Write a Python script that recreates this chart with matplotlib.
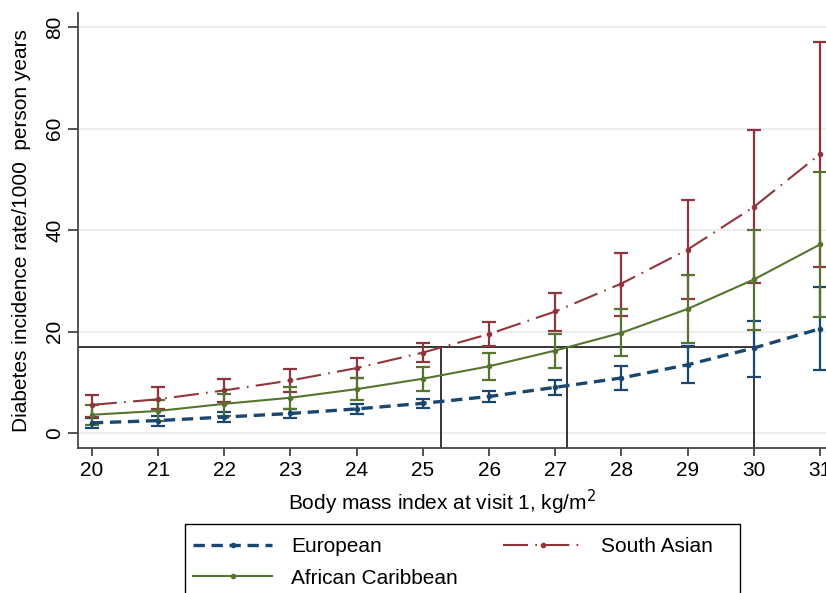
import matplotlib.pyplot as plt
from matplotlib.patches import Rectangle
import numpy as np

plt.rcParams['font.family'] = ['Liberation Sans', 'DejaVu Sans']
plt.rcParams['font.size'] = 15

bmi = [20, 21, 22, 23, 24, 25, 26, 27, 28, 29, 30, 31]

european = [2.05, 2.5, 3.2, 3.9, 4.8, 5.9, 7.25, 9.05, 10.9, 13.5, 16.8, 20.6]
european_lo = [1.0, 1.5, 2.2, 3.0, 3.85, 5.0, 6.25, 7.45, 8.6, 9.9, 11.0, 12.4]
european_hi = [3.0, 3.4, 4.1, 4.7, 5.7, 6.75, 8.3, 10.5, 13.2, 17.2, 22.2, 28.8]

afr_carib = [3.65, 4.4, 5.8, 7.0, 8.7, 10.75, 13.2, 16.3, 19.8, 24.5, 30.3, 37.2]
afr_carib_lo = [1.7, 2.5, 3.5, 4.8, 6.5, 8.4, 10.55, 12.85, 15.3, 17.8, 20.4, 23.0]
afr_carib_hi = [5.5, 6.6, 7.8, 9.2, 10.9, 13.05, 15.8, 19.6, 24.5, 31.1, 40.0, 51.4]

south_asian = [5.6, 6.7, 8.45, 10.4, 12.85, 15.9, 19.55, 24.0, 29.5, 36.2, 44.6, 55.0]
south_asian_lo = [3.15, 4.8, 6.1, 8.2, 10.9, 14.0, 17.25, 20.2, 23.2, 26.4, 29.6, 32.7]
south_asian_hi = [7.6, 9.1, 10.75, 12.65, 14.9, 17.8, 21.85, 27.6, 35.6, 46.0, 59.7, 77.1]

# reference rate and the BMI where each group reaches it
ref_rate = 16.9
ref_bmi = [25.27, 27.18, 30.0]

navy = '#1a476f'
maroon = '#90353b'
green = '#55752f'

fig = plt.figure(figsize=(8.26, 5.93), dpi=100)
ax = fig.add_axes([78 / 826, 1 - 448 / 593, 1 - 78 / 826, (448 - 13) / 593])

for v in [0, 20, 40, 60, 80]:
    ax.axhline(v, color='#eaeaea', lw=1.2, zorder=0)


def draw(y, lo, hi, color, **kw):
    y = np.array(y)
    err = [y - np.array(lo), np.array(hi) - y]
    ax.errorbar(bmi, y, yerr=err, fmt='none', ecolor=color, elinewidth=1.6,
                capsize=5, capthick=1.6, zorder=3)
    line, = ax.plot(bmi, y, color=color, marker='o', markersize=3, zorder=4, **kw)
    return line


l_eu = draw(european, european_lo, european_hi, navy, lw=2.4,
            dashes=(3.4, 2.0), label='European')
l_sa = draw(south_asian, south_asian_lo, south_asian_hi, maroon, lw=1.5,
            dashes=(12, 3.5, 0.8, 3.5), label='South Asian')
l_ac = draw(afr_carib, afr_carib_lo, afr_carib_hi, green, lw=1.5,
            label='African Caribbean')

ax.plot([19.79, ref_bmi[-1]], [ref_rate, ref_rate], color='black', lw=1.1, zorder=2)
for b in ref_bmi:
    ax.plot([b, b], [-3, ref_rate], color='black', lw=1.1, zorder=2)

ax.set_xlim(19.79, 31.09)
ax.set_ylim(-2.9, 82.8)
ax.set_xticks(bmi)
ax.set_yticks([0, 20, 40, 60, 80])
ax.tick_params(axis='y', labelrotation=90, length=7, width=1.2, pad=3, color='#333333')
ax.tick_params(axis='x', length=6, width=1.2, pad=3, color='#333333')
for lab in ax.get_yticklabels():
    lab.set_va('center')
for s in ['top', 'right']:
    ax.spines[s].set_visible(False)
for s in ['left', 'bottom']:
    ax.spines[s].set_color('#444444')
    ax.spines[s].set_linewidth(1.3)

ax.set_xlabel('Body mass index at visit 1, kg/m$^2$', labelpad=6)
ax.xaxis.label.set_x(0.487)
ax.set_ylabel('Diabetes incidence rate/1000  person years', labelpad=10)

# legend box (runs off the bottom of the figure as in the original)
fig.patches.append(Rectangle((185 / 826, -0.3), 555 / 826, 0.3 + 1 - 524 / 593,
                             transform=fig.transFigure, facecolor='white',
                             edgecolor='black', lw=1.0, zorder=1))
leg = fig.legend([l_eu, l_ac, l_sa], ['European', 'African Caribbean', 'South Asian'],
                 ncol=2, loc='upper left',
                 bbox_to_anchor=(193 / 826, 1 - 537 / 593),
                 borderaxespad=0, borderpad=0, frameon=False,
                 handlelength=3.8, handletextpad=0.9, labelspacing=0.6,
                 columnspacing=2.2, numpoints=1, fontsize=15)

fig.savefig('out.png', dpi=100)
